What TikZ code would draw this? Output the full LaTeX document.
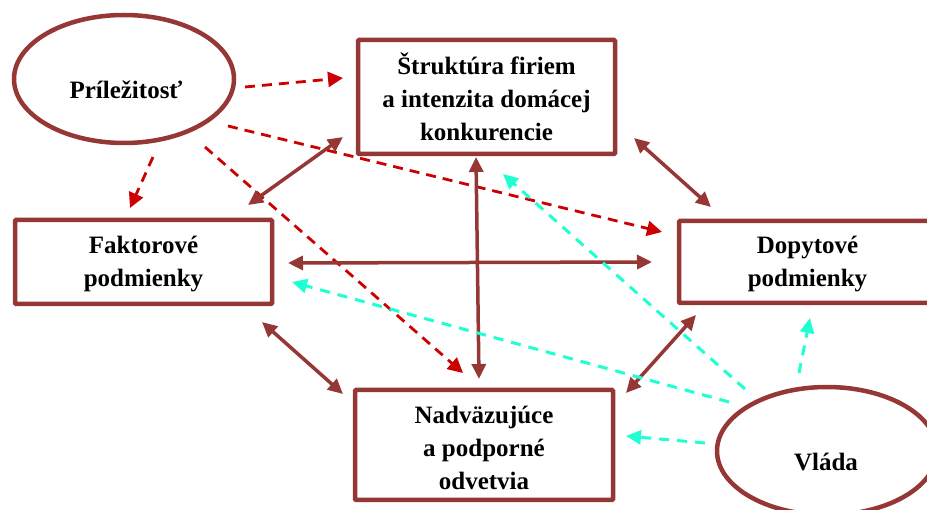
\documentclass[tikz,border=0pt]{standalone}
\usepackage{fontspec}
\setmainfont{Liberation Serif}
\usetikzlibrary{arrows.meta,shapes.geometric}
\definecolor{brn}{HTML}{953735}
\definecolor{rd}{HTML}{CC0000}
\definecolor{cy}{HTML}{1EFFD2}
\begin{document}
\begin{tikzpicture}[x=1pt,y=-1pt,
 box/.style={draw=brn,line width=4.5pt,rectangle,rounded corners=1pt,fill=white,align=center,font=\fontsize{25}{33}\selectfont\bfseries,inner sep=0pt},
 ell/.style={draw=brn,line width=4.5pt,ellipse,minimum width=220pt,minimum height=128pt,inner sep=0pt},
 lbl/.style={font=\fontsize{25}{33}\selectfont\bfseries,inner sep=0pt},
 dbl/.style={draw=brn,line width=3.5pt,{Triangle[length=15pt,width=14pt]}-{Triangle[length=15pt,width=14pt]}},
 rdash/.style={draw=rd,line width=2.8pt,dash pattern=on 10pt off 7pt,-{Triangle[length=15pt,width=15pt]}},
 cdash/.style={draw=cy,line width=3pt,dash pattern=on 10pt off 8pt,-{Triangle[length=15pt,width=14pt]}}]
\useasboundingbox (0,0) rectangle (927,510);
\clip (0,0) rectangle (927,510);
% nodes
\node[ell] (pril) at (124,79) {};
\node[lbl] (prilt) at (126,90) {Príležitosť};
\node[ell] (vlada) at (827,451) {};
\node[lbl] (vladat) at (826,462) {Vláda};
\node[box,minimum width=257pt,minimum height=114pt] (struct) at (486.5,97) {Štruktúra firiem\\a intenzita domácej\\konkurencie};
\node[box,minimum width=257pt,minimum height=84pt] (fakt) at (143.5,262) {\rule{0pt}{22pt}Faktorové\\podmienky};
\node[box,minimum width=257pt,minimum height=82pt] (dopyt) at (807.5,262) {\rule{0pt}{22pt}Dopytové\\podmienky};
\node[box,minimum width=258pt,minimum height=110pt] (nadv) at (484,445) {\rule{0pt}{24pt}Nadväzujúce\\a podporné\\odvetvia};
% red dashed
\draw[rdash] ([shift={(121,8)}]pril.center) -- ([shift={(-143.5,-19)}]struct.center);
\draw[rdash] ([shift={(104,47)}]pril.center) -- ([shift={(-145.5,-30)}]dopyt.center);
\draw[rdash] ([shift={(29,78)}]pril.center) -- ([shift={(-13.5,-54)}]fakt.center);
\draw[rdash] ([shift={(81,68)}]pril.center) -- ([shift={(-21,-72)}]nadv.center);
% brown double arrows
\draw[dbl] ([shift={(-143.5,40)}]struct.center) -- ([shift={(104.5,-57)}]fakt.center);
\draw[dbl] ([shift={(-10.5,60)}]struct.center) -- ([shift={(-5,-66)}]nadv.center);
\draw[dbl] ([shift={(144.5,1)}]fakt.center) -- ([shift={(-155.5,0)}]dopyt.center);
\draw[dbl] ([shift={(147.5,41)}]struct.center) -- ([shift={(-96.5,-55)}]dopyt.center);
\draw[dbl] ([shift={(118.5,60)}]fakt.center) -- ([shift={(-141,-51)}]nadv.center);
\draw[dbl] ([shift={(-111.5,53)}]dopyt.center) -- ([shift={(142,-52)}]nadv.center);
% cyan dashed
\draw[cdash] ([shift={(-82,-62)}]vlada.center) -- ([shift={(16.5,77)}]struct.center);
\draw[cdash] ([shift={(-98,-49)}]vlada.center) -- ([shift={(148.5,20)}]fakt.center);
\draw[cdash] ([shift={(-28,-78)}]vlada.center) -- ([shift={(2.5,56)}]dopyt.center);
\draw[cdash] ([shift={(-122,-8)}]vlada.center) -- ([shift={(142,-9)}]nadv.center);
\end{tikzpicture}
\end{document}
